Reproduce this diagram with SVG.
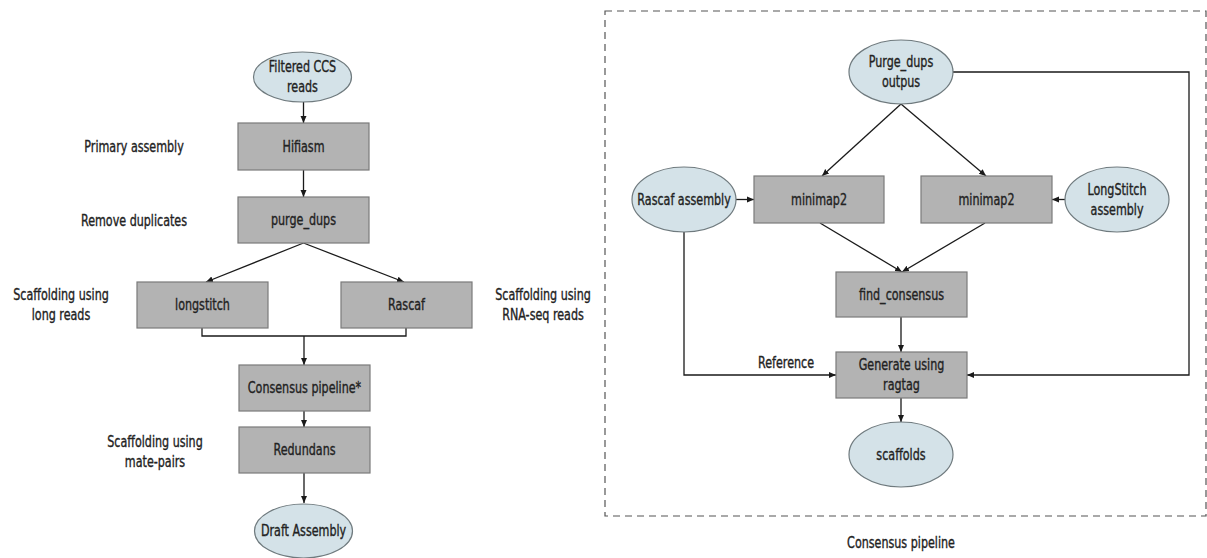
<svg xmlns="http://www.w3.org/2000/svg" width="1207" height="558" viewBox="0 0 1207 558">
  <defs>
    <marker id="arrow" markerWidth="8" markerHeight="8" refX="7" refY="4" orient="auto" markerUnits="userSpaceOnUse">
      <path d="M0,1 L7,4 L0,7 z" fill="#1a1a1a"/>
    </marker>
    <style>
      text { font-family: "DejaVu Sans Condensed", "DejaVu Sans", sans-serif; font-stretch: condensed; font-size: 15.5px; fill: #222; stroke: #222; stroke-width: 0.35; text-anchor: middle; transform-box: fill-box; transform-origin: center; transform: scaleX(0.8); }
      .box { fill: #b3b3b3; stroke: #7a7a7a; stroke-width: 1.2; }
      .oval { fill: #d4e2e8; stroke: #6f7a7e; stroke-width: 1.2; }
      .edge { fill: none; stroke: #1a1a1a; stroke-width: 1.3; }
      .frame { fill: none; stroke: #555; stroke-width: 1.2; stroke-dasharray: 7 5; }
    </style>
  </defs>
  <rect width="1207" height="558" fill="#fff"/>

  <!-- Side labels for the main workflow -->
  <g id="side-labels">
    <text x="134" y="152">Primary assembly</text>
    <text x="134" y="226">Remove duplicates</text>
    <text x="61" y="300">Scaffolding using</text>
    <text x="61" y="320">long reads</text>
    <text x="543" y="300">Scaffolding using</text>
    <text x="543" y="320">RNA-seq reads</text>
    <text x="155" y="447">Scaffolding using</text>
    <text x="155" y="467">mate-pairs</text>
  </g>

  <!-- Connectors -->
  <g id="connectors">
    <line class="edge" x1="303.5" y1="102" x2="303.5" y2="123" marker-end="url(#arrow)"/>
    <line class="edge" x1="303.5" y1="170" x2="303.5" y2="197" marker-end="url(#arrow)"/>
    <line class="edge" x1="303.5" y1="243" x2="206" y2="282" marker-end="url(#arrow)"/>
    <line class="edge" x1="303.5" y1="243" x2="404" y2="282" marker-end="url(#arrow)"/>
    <polyline class="edge" points="202,328 202,336 406,336 406,328" stroke="#666" stroke-width="1"/>
    <line class="edge" x1="304" y1="336" x2="304" y2="365" marker-end="url(#arrow)"/>
    <line class="edge" x1="304" y1="411" x2="304" y2="427" marker-end="url(#arrow)"/>
    <line class="edge" x1="304" y1="473" x2="304" y2="503" marker-end="url(#arrow)"/>

    <line class="edge" x1="736" y1="199.5" x2="754" y2="199.5" marker-end="url(#arrow)"/>
    <line class="edge" x1="1065" y1="199.5" x2="1052" y2="199.5" marker-end="url(#arrow)"/>
    <line class="edge" x1="901" y1="104" x2="822" y2="176" marker-end="url(#arrow)"/>
    <line class="edge" x1="901" y1="104" x2="986" y2="176" marker-end="url(#arrow)"/>
    <line class="edge" x1="820" y1="223" x2="902" y2="272" marker-end="url(#arrow)"/>
    <line class="edge" x1="985" y1="223" x2="902" y2="272" marker-end="url(#arrow)"/>
    <line class="edge" x1="901" y1="317" x2="901" y2="352" marker-end="url(#arrow)"/>
    <line class="edge" x1="901" y1="398" x2="901" y2="422" marker-end="url(#arrow)"/>
    <polyline class="edge" points="684,232 684,375 836,375" marker-end="url(#arrow)"/>
    <polyline class="edge" points="953,72 1189,72 1189,375 967,375" marker-end="url(#arrow)"/>
    <text x="786" y="368">Reference</text>
  </g>

  <!-- Main workflow nodes -->
  <g id="filtered-ccs">
    <ellipse class="oval" cx="302.5" cy="77" rx="49" ry="25"/>
    <text x="302.5" y="72">Filtered CCS</text>
    <text x="302.5" y="92">reads</text>
  </g>
  <g id="hifiasm">
    <rect class="box" x="238" y="123" width="131" height="47"/>
    <text x="303.5" y="152">Hifiasm</text>
  </g>
  <g id="purge-dups">
    <rect class="box" x="238" y="197" width="131" height="46"/>
    <text x="303.5" y="225">purge_dups</text>
  </g>
  <g id="longstitch">
    <rect class="box" x="137" y="282" width="131" height="46"/>
    <text x="202.5" y="310">longstitch</text>
  </g>
  <g id="rascaf">
    <rect class="box" x="341" y="282" width="131" height="46"/>
    <text x="406.5" y="310">Rascaf</text>
  </g>
  <g id="consensus-pipeline">
    <rect class="box" x="239" y="365" width="131" height="46"/>
    <text x="304.5" y="393">Consensus pipeline*</text>
  </g>
  <g id="redundans">
    <rect class="box" x="239" y="427" width="131" height="46"/>
    <text x="304.5" y="455">Redundans</text>
  </g>
  <g id="draft-assembly">
    <ellipse class="oval" cx="303.5" cy="531" rx="49" ry="27"/>
    <text x="303.5" y="536">Draft Assembly</text>
  </g>

  <!-- Consensus pipeline detail -->
  <g id="consensus-frame">
    <rect class="frame" x="605" y="11" width="601" height="505"/>
    <text x="901" y="548">Consensus pipeline</text>
  </g>
  <g id="purge-dups-output">
    <ellipse class="oval" cx="901" cy="72" rx="52" ry="32"/>
    <text x="901" y="67">Purge_dups</text>
    <text x="901" y="87">outpus</text>
  </g>
  <g id="rascaf-assembly">
    <ellipse class="oval" cx="684" cy="199.5" rx="52" ry="32.5"/>
    <text x="684" y="205">Rascaf assembly</text>
  </g>
  <g id="minimap2-left">
    <rect class="box" x="754" y="176" width="130" height="47"/>
    <text x="819" y="205">minimap2</text>
  </g>
  <g id="minimap2-right">
    <rect class="box" x="921" y="176" width="131" height="47"/>
    <text x="986.5" y="205">minimap2</text>
  </g>
  <g id="longstitch-assembly">
    <ellipse class="oval" cx="1117" cy="199.5" rx="52" ry="32.5"/>
    <text x="1117" y="195">LongStitch</text>
    <text x="1117" y="215">assembly</text>
  </g>
  <g id="find-consensus">
    <rect class="box" x="836" y="272" width="131" height="45"/>
    <text x="901.5" y="300">find_consensus</text>
  </g>
  <g id="ragtag">
    <rect class="box" x="836" y="352" width="131" height="46"/>
    <text x="901.5" y="370">Generate using</text>
    <text x="901.5" y="390">ragtag</text>
  </g>
  <g id="scaffolds">
    <ellipse class="oval" cx="901" cy="454.5" rx="52" ry="32.5"/>
    <text x="901" y="460">scaffolds</text>
  </g>
</svg>
